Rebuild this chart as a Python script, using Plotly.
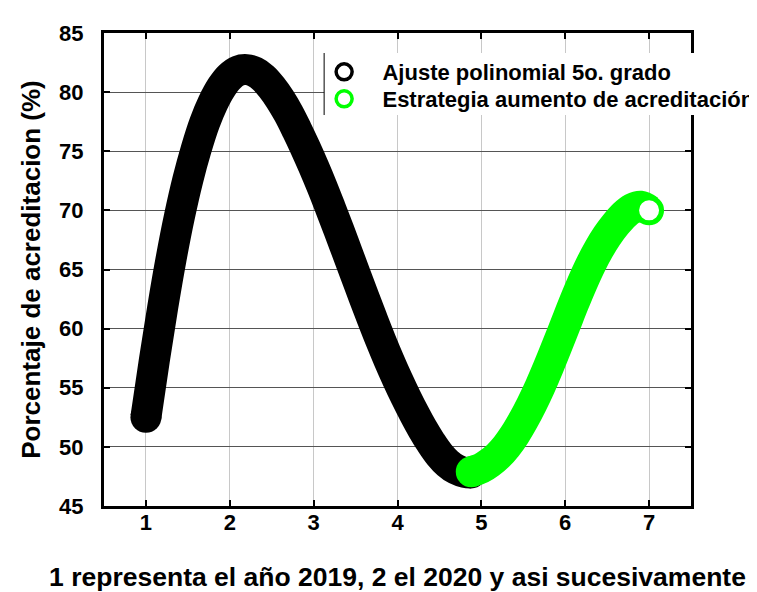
import plotly.graph_objects as go

# ---- data ----
x_fit = [1.0, 1.1, 1.2, 1.3, 1.4, 1.5, 1.6, 1.7, 1.8, 1.9, 2.0, 2.1, 2.2, 2.3, 2.4,
         2.5, 2.6, 2.7, 2.8, 2.9, 3.0, 3.1, 3.2, 3.3, 3.4, 3.5, 3.6, 3.7, 3.8, 3.9,
         4.0, 4.1, 4.2, 4.3, 4.4, 4.5, 4.6, 4.7, 4.8, 4.88]
y_fit = [52.5, 57.3, 61.8, 65.9, 69.5, 72.6, 75.2, 77.4, 79.1, 80.4, 81.3, 81.8, 81.9, 81.7, 81.2,
         80.4, 79.4, 78.2, 76.8, 75.3, 73.7, 72.0, 70.2, 68.35, 66.45, 64.55, 62.65, 60.8, 59.0, 57.3,
         55.7, 54.2, 52.8, 51.5, 50.35, 49.35, 48.6, 48.1, 47.85, 47.8]

x_str = [4.88, 5.0, 5.1, 5.2, 5.3, 5.4, 5.5, 5.6, 5.7, 5.8, 5.9, 6.0, 6.1, 6.2, 6.3,
         6.4, 6.5, 6.6, 6.7, 6.8, 6.9, 7.0]
y_str = [47.9, 48.2, 48.65, 49.25, 50.05, 51.05, 52.25, 53.6, 55.1, 56.75, 58.5, 60.3, 62.1, 63.8, 65.35,
         66.7, 67.85, 68.8, 69.6, 70.15, 70.35, 70.0]

x_ticks = [1, 2, 3, 4, 5, 6, 7]
y_ticks = [45, 50, 55, 60, 65, 70, 75, 80, 85]

name_fit = "Ajuste polinomial 5o. grado"
name_str = "Estrategia aumento de acreditación"
x_title = "1 representa el año 2019, 2 el 2020 y asi sucesivamente"
y_title = "Porcentaje de acreditacion (%)"

BLACK = "#000000"
GREEN = "#00ff00"
FONT = "Liberation Sans"
BAND = 31
PAD = "\u00a0\u00a0\u00a0"

fig = go.Figure()

# black band
fig.add_trace(go.Scatter(x=x_fit, y=y_fit, mode="lines",
                         line=dict(color=BLACK, width=BAND, shape="spline"),
                         showlegend=False, hoverinfo="skip"))
fig.add_trace(go.Scatter(x=[x_fit[0], x_fit[-1]], y=[y_fit[0], y_fit[-1]], mode="markers",
                         marker=dict(size=BAND, color=BLACK, line=dict(width=0)),
                         showlegend=False, hoverinfo="skip"))
# green band
fig.add_trace(go.Scatter(x=x_str, y=y_str, mode="lines",
                         line=dict(color=GREEN, width=BAND, shape="spline"),
                         showlegend=False, hoverinfo="skip"))
fig.add_trace(go.Scatter(x=[x_str[0]], y=[y_str[0]], mode="markers",
                         marker=dict(size=BAND, color=GREEN, line=dict(width=0)),
                         showlegend=False, hoverinfo="skip"))
fig.add_trace(go.Scatter(x=[x_str[-1]], y=[y_str[-1]], mode="markers",
                         marker=dict(size=BAND - 6, color="white", line=dict(width=5, color=GREEN)),
                         showlegend=False, hoverinfo="skip"))

# legend entries (one legend per row to control spacing)
fig.add_trace(go.Scatter(x=[None], y=[None], mode="markers", name=PAD + name_fit, legend="legend",
                         marker=dict(size=16, color="white", line=dict(width=3.5, color=BLACK))))
fig.add_trace(go.Scatter(x=[None], y=[None], mode="markers", name=PAD + name_str, legend="legend2",
                         marker=dict(size=16, color="white", line=dict(width=3.5, color=GREEN))))

axis_common = dict(
    showline=True, linecolor=BLACK, linewidth=3, mirror="ticks",
    ticks="inside", ticklen=6, tickwidth=2, tickcolor=BLACK,
    tickfont=dict(family=FONT, size=22, color=BLACK, weight="bold"),
    zeroline=False, showgrid=True, gridwidth=1,
)

leg_font = dict(family=FONT, size=22, weight="bold", color=BLACK)
LEG_X = 0.375

fig.update_layout(
    width=749, height=584,
    margin=dict(l=96, r=66, t=25, b=86, autoexpand=False),
    paper_bgcolor="white", plot_bgcolor="white",
    font=dict(family=FONT, color=BLACK),
    xaxis=dict(range=[0.5, 7.5], tickmode="array", tickvals=x_ticks,
               gridcolor="#c8c8c8", ticklabelstandoff=-5,
               title=dict(text=x_title, font=dict(family=FONT, size=26.5, weight="bold", color=BLACK),
                          standoff=34),
               **axis_common),
    yaxis=dict(range=[45, 85], tickmode="array", tickvals=y_ticks,
               gridcolor="#555555", ticklabelstandoff=13,
               title=dict(text=y_title, font=dict(family=FONT, size=26, weight="bold", color=BLACK),
                          standoff=12),
               **axis_common),
    legend=dict(x=LEG_X, y=0.9175, xanchor="left", yanchor="middle",
                bgcolor="rgba(0,0,0,0)", borderwidth=0, font=leg_font),
    legend2=dict(x=LEG_X, y=0.8605, xanchor="left", yanchor="middle",
                 bgcolor="rgba(0,0,0,0)", borderwidth=0, font=leg_font),
    shapes=[
        dict(type="rect", xref="paper", yref="paper", x0=LEG_X, x1=1.3,
             y0=0.8266, y1=0.9577, fillcolor="white", line=dict(width=0), layer="above"),
        dict(type="line", xref="paper", yref="paper", x0=LEG_X, x1=LEG_X,
             y0=0.8266, y1=0.9577, line=dict(color=BLACK, width=1), layer="above"),
    ],
)

fig.write_html("out.html")
